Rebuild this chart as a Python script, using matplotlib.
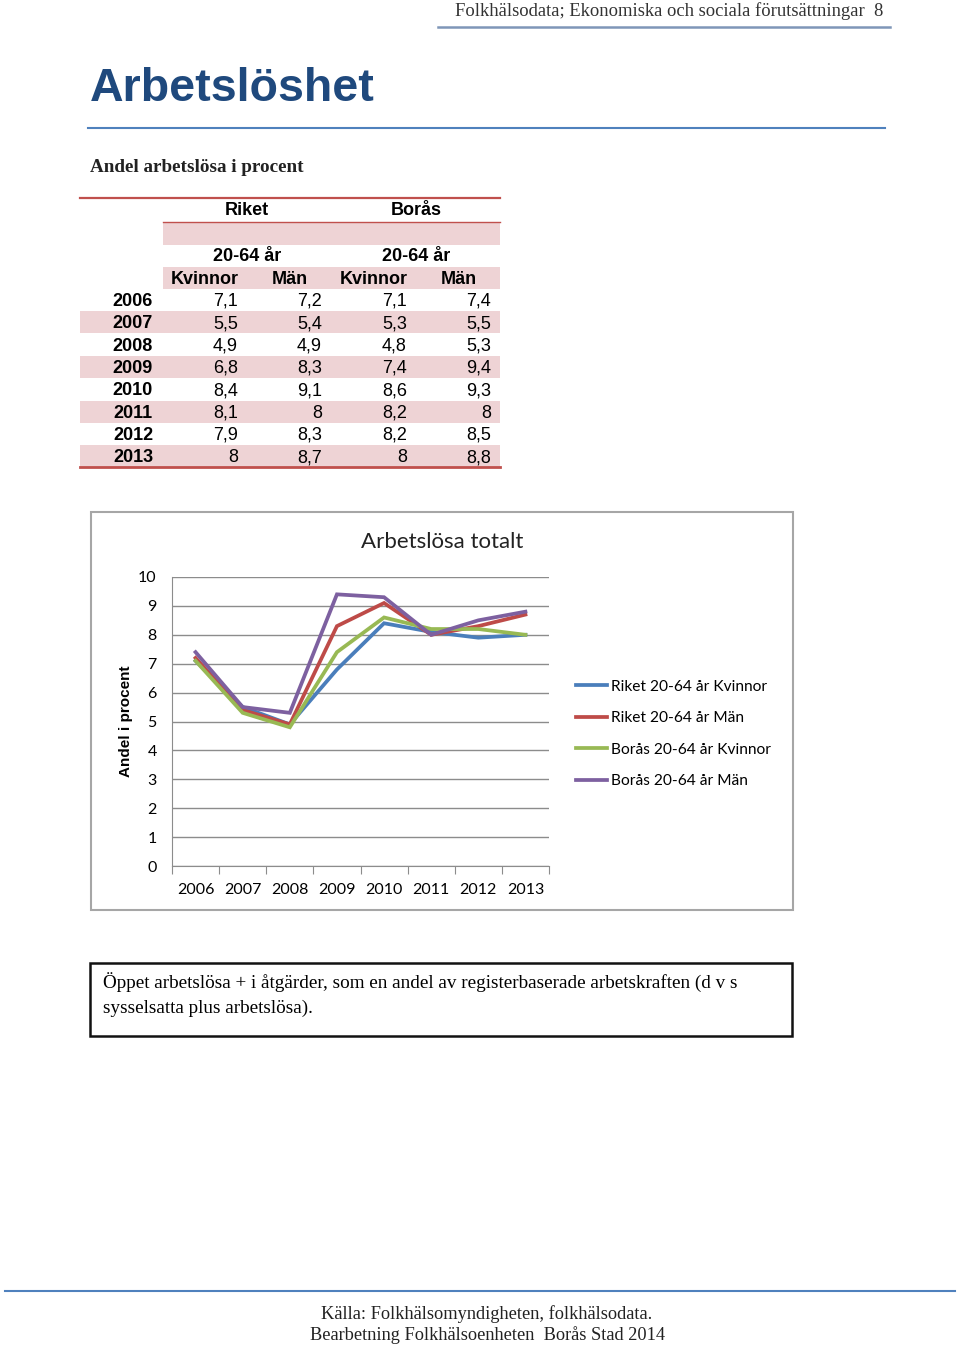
import numpy as np
import matplotlib
matplotlib.use("Agg")
import matplotlib.pyplot as plt
from matplotlib.patches import Rectangle

# data
years = [2006, 2007, 2008, 2009, 2010, 2011, 2012, 2013]
riket_kvinnor = [7.1, 5.5, 4.9, 6.8, 8.4, 8.1, 7.9, 8.0]
riket_man = [7.2, 5.4, 4.9, 8.3, 9.1, 8.0, 8.3, 8.7]
boras_kvinnor = [7.1, 5.3, 4.8, 7.4, 8.6, 8.2, 8.2, 8.0]
boras_man = [7.4, 5.5, 5.3, 9.4, 9.3, 8.0, 8.5, 8.8]

series_labels = ["Riket 20-64 år Kvinnor", "Riket 20-64 år Män",
                 "Borås 20-64 år Kvinnor", "Borås 20-64 år Män"]
series_colors = ["#4a7ebb", "#be4b48", "#98b954", "#7d60a0"]

W, H = 960, 1348
fig = plt.figure(figsize=(W / 100, H / 100), dpi=100)
bg = fig.add_axes([0, 0, 1, 1])
bg.set_xlim(0, W)
bg.set_ylim(H, 0)
bg.axis("off")

serif = "Liberation Serif"
sans = "Liberation Sans"
chartfont = "Lato"

# page header
bg.text(883, 11, "Folkhälsodata; Ekonomiska och sociala förutsättningar  8",
        family=serif, fontsize=13.4, ha="right", va="center", color="#333333")
bg.plot([438, 890], [27, 27], color="#7f96b8", lw=1.8)

bg.text(90, 89, "Arbetslöshet", family=sans, fontweight="bold", fontsize=33.5,
        ha="left", va="center", color="#1f497d")
bg.plot([88, 885], [128, 128], color="#4f81bd", lw=1.5)

bg.text(90, 167, "Andel arbetslösa i procent", family=serif, fontweight="bold",
        fontsize=13.8, ha="left", va="center", color="#222222")

# table
pink = "#eed3d5"
red = "#c0504d"
row_h = 22.3
fs_tab = 13
dy = 1.5
bg.plot([80, 500], [198, 198], color=red, lw=1.6)
bg.text(247, 209 + dy, "Riket", family=sans, fontweight="bold", fontsize=fs_tab, ha="center", va="center")
bg.text(416, 209 + dy, "Borås", family=sans, fontweight="bold", fontsize=fs_tab, ha="center", va="center")
bg.plot([163, 500], [222, 222], color=red, lw=1.0)
bg.add_patch(Rectangle((163, 223), 337, 22, color=pink, lw=0))
bg.text(247, 255 + dy, "20-64 år", family=sans, fontweight="bold", fontsize=fs_tab, ha="center", va="center")
bg.text(416, 255 + dy, "20-64 år", family=sans, fontweight="bold", fontsize=fs_tab, ha="center", va="center")
bg.add_patch(Rectangle((163, 267), 337, 22, color=pink, lw=0))
col_centers = [205, 290, 374, 459]
col_rights = [238, 322, 407, 491]
for cx, lab in zip(col_centers, ["Kvinnor", "Män", "Kvinnor", "Män"]):
    bg.text(cx, 278 + dy, lab, family=sans, fontweight="bold", fontsize=fs_tab, ha="center", va="center")

cols = [riket_kvinnor, riket_man, boras_kvinnor, boras_man]
for i, yr in enumerate(years):
    yc = 300 + i * row_h
    if i % 2 == 1:
        bg.add_patch(Rectangle((80, yc - 11), 420, 22, color=pink, lw=0))
    bg.text(153, yc + dy, str(yr), family=sans, fontweight="bold", fontsize=fs_tab, ha="right", va="center")
    for xr, col in zip(col_rights, cols):
        txt = f"{col[i]:g}".replace(".", ",")
        bg.text(xr, yc + dy, txt, family=sans, fontsize=fs_tab, ha="right", va="center")
bg.plot([80, 500], [467, 467], color=red, lw=2.0)

# chart frame
bg.add_patch(Rectangle((91, 512), 702, 398, fill=False, ec="#a6a6a6", lw=1.5))
bg.text(442, 542, "Arbetslösa totalt", family=chartfont, fontsize=16,
        ha="center", va="center", color="#222222")

x0, x1, y0, y1 = 172, 549, 577, 866
ax = fig.add_axes([x0 / W, 1 - y1 / H, (x1 - x0) / W, (y1 - y0) / H])
ax.patch.set_alpha(0)
xs = np.arange(len(years))
for vals, lab, c in zip(cols, series_labels, series_colors):
    ax.plot(xs, vals, color=c, lw=2.7, label=lab, solid_joinstyle="miter")
ax.set_xlim(-0.5, len(years) - 0.5)
ax.set_ylim(0, 10)
ax.set_yticks(range(0, 11))
ax.yaxis.grid(True, color="#8c8c8c", lw=1.0)
ax.set_axisbelow(True)
ax.set_xticks(np.arange(-0.5, len(years), 1.0), minor=False)
ax.set_xticklabels([])
ax.set_xticks(xs, minor=True)
ax.set_xticklabels([str(y) for y in years], minor=True, family=chartfont, fontsize=11.5)
ax.tick_params(axis="x", which="major", length=6, color="#8c8c8c", direction="out")
ax.tick_params(axis="x", which="minor", length=0, pad=12)
ax.tick_params(axis="y", length=0, pad=11, labelsize=11.5)
for t in ax.get_yticklabels():
    t.set_family(chartfont)
for s in ["top", "right"]:
    ax.spines[s].set_visible(False)
ax.spines["left"].set_color("#8c8c8c")
ax.spines["bottom"].set_color("#8c8c8c")
ax.set_ylabel("Andel i procent", family=sans, fontweight="bold", fontsize=11, labelpad=4)

ax.legend(loc="center left", bbox_to_anchor=(568 / W, 1 - 734 / H), bbox_transform=fig.transFigure,
          frameon=False, borderpad=0, handlelength=2.0, handletextpad=0.25, labelspacing=1.12,
          prop={"family": chartfont, "size": 11.2})

# definition box
bg.add_patch(Rectangle((90, 963), 702, 73, fill=False, ec="#111111", lw=1.8))
bg.text(103, 982, "Öppet arbetslösa + i åtgärder, som en andel av registerbaserade arbetskraften (d v s",
        family=serif, fontsize=13.8, ha="left", va="center")
bg.text(103, 1008, "sysselsatta plus arbetslösa).", family=serif, fontsize=13.8, ha="left", va="center")

# footer
bg.plot([5, 955], [1291, 1291], color="#4f81bd", lw=1.5)
bg.text(487, 1314, "Källa: Folkhälsomyndigheten, folkhälsodata.", family=serif, fontsize=13.2,
        ha="center", va="center", color="#222222")
bg.text(487, 1335, "Bearbetning Folkhälsoenheten  Borås Stad 2014", family=serif, fontsize=13.2,
        ha="center", va="center", color="#222222")

fig.savefig("out.png", dpi=100)
